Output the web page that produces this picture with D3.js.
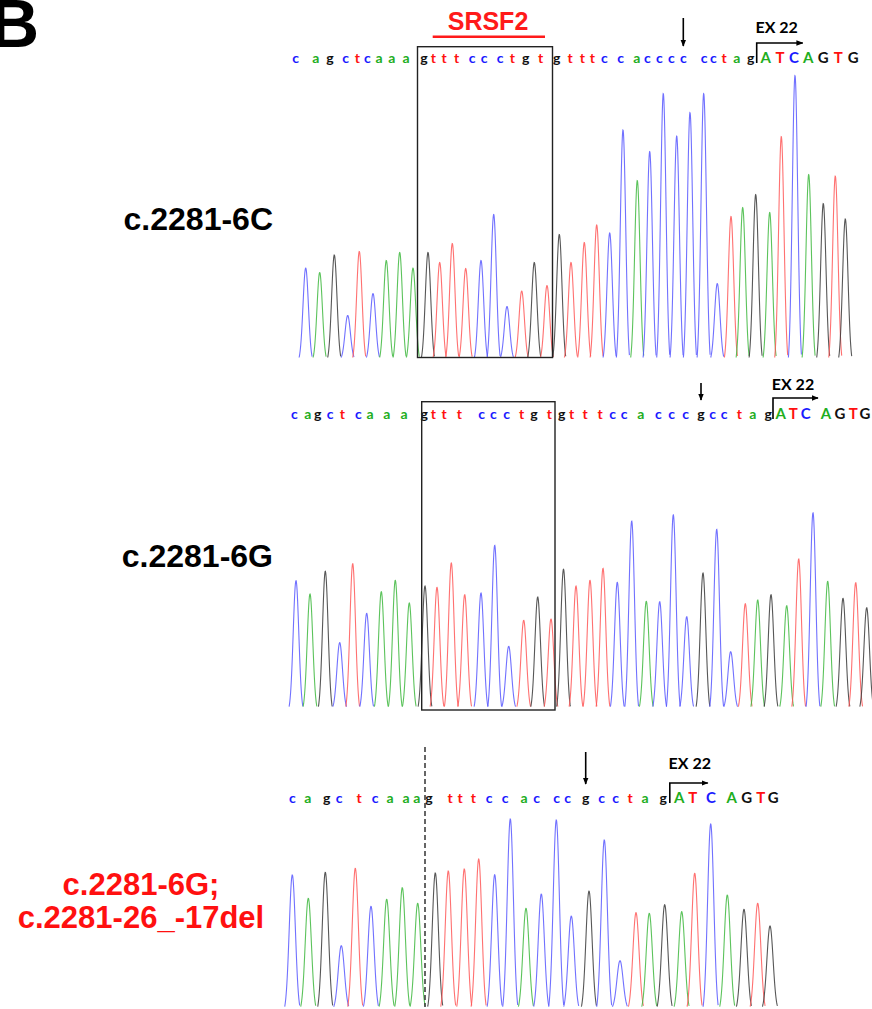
<html lang="en">
<head>
<meta charset="UTF-8">
<title>Sanger chromatograms</title>
<script src="https://d3js.org/d3.v7.min.js"></script>
<style>
  body { margin: 0; background: #fff; }
  .seq { font-family: Lato, "Open Sans", sans-serif; font-weight: 700; }
  .label { font-family: "Liberation Sans", Arial, sans-serif; font-weight: 700; }
  .ex { font-family: Lato, sans-serif; font-weight: 700; font-size: 16px; }
</style>
</head>
<body>
<div id="chart"></div>
<script>
// bases of each read
const bases1 = [..."cagctcaaagtttccctgtgtttccacccccctagATCAGTG"];
const bases2 = [..."cagctcaaagtttccctgtgtttccacccgcctagATCAGTG"];
const bases3 = [..."cagctcaaagtttccacccgcctagATCAGTG"];

// letter positions (trace units)
const letters1 = [23.7, 43.7, 58, 73.7, 85.3, 95.3, 107, 119.7, 134, 152, 161.3, 172, 184.7, 200, 212, 228, 240.3, 253.7, 268.7, 284.7,
  298, 310.3, 320.3, 332.3, 348.7, 364.7, 375.3, 387.3, 399.3, 411.3, 432, 441.3, 452, 464.7, 478.7, 493.7, 508, 522, 536.3, 551.3, 566.3, 581.3];
const letters2 = [22.3, 35.7, 45.7, 58, 70.3, 86.3, 98, 114.7, 132, 152.3, 161.3, 172, 187.3, 209.7, 221.3, 234.7, 249.7, 262, 277.3, 289.7,
  299.7, 313, 328, 340.7, 352, 368.7, 386.3, 399.7, 413.7, 429, 440.7, 452, 467.3, 480.7, 496.3, 508.7, 521.3, 533.7, 554, 568, 581.3, 593];
const letters3 = [20.3, 35.7, 54.7, 67, 87, 103, 118, 134, 144.7, 157, 178, 188, 201.3, 217, 233, 252,
  264.7, 284.7, 295.7, 313.7, 329.7, 343.7, 358, 373, 391.3, 407.3, 420.7, 439, 459.7, 474.7, 488.7, 501.3];

// peak positions (trace units) and heights (signal)
const peaks1 = [33.7, 47.7, 62.3, 75.7, 87.3, 101, 114.3, 127.7, 141, 156, 167.7, 180.3, 193.7, 209, 221.7, 235, 249.7, 262.3, 275, 287.3,
  299, 312.3, 324.7, 337.7, 351, 365.3, 377.7, 391.3, 404.7, 418, 431.7, 445.3, 459, 470.7, 483.7, 497.7, 509.3, 523, 536.7, 551.3, 563.3, 573.3];
const heights1 = [89.5, 85, 102.5, 42, 106, 64, 97, 105, 89.5, 105, 95, 114, 89, 97, 143, 51, 66.5, 95, 72, 123,
  95, 115, 132.5, 124.5, 227.5, 177, 206, 264, 221.5, 245, 264, 74, 141, 150, 163, 145, 221, 282, 183, 154, 181.5, 138.5];

const peaks2 = [24, 38, 53.3, 67.7, 80.7, 94.7, 109.3, 123.3, 137.3, 153, 165, 179.3, 192.7, 209, 222.7, 236.7, 251.7, 265.7, 279, 291.5,
  304, 318, 331, 345.3, 359.7, 374.3, 387.7, 401.3, 414.7, 431, 444.7, 458.7, 473.3, 485.7, 499, 514.7, 526.7, 541, 555.7, 571, 583.7, 594.7];
const heights2 = [126, 112.7, 135.4, 64, 143, 93.4, 115, 126.4, 103.7, 120.7, 119.4, 143.7, 112, 113.7, 161.4, 60.4, 86.4, 109.7, 87.7, 137.4,
  120.7, 126.4, 138.4, 124.4, 185.7, 105.4, 105, 192, 90, 133.7, 177.4, 55, 103, 106.7, 112, 101, 147.7, 194, 125.4, 108.4, 124, 99];

const peaks3 = [20.3, 36.3, 53.3, 69.3, 83.3, 99, 114.7, 130.3, 145.7, 163.3, 176.3, 192.3, 206.7, 222.7, 238.3, 254,
  269.3, 284.3, 299.3, 317, 332.3, 348, 364, 377.3, 392.7, 409.7, 422.7, 438.7, 455.3, 472, 485.7, 498];
const heights3 = [131.7, 108.4, 134.4, 61, 138.4, 100.4, 107.4, 119, 103.4, 133.7, 135.7, 137.7, 147.7, 132, 187.7, 98.4,
  112.7, 186.7, 90.7, 115.7, 166.7, 46, 94, 93.4, 102, 95, 133.4, 182.7, 111.7, 97.4, 103.4, 80.7];

const sampleLabels = ["c.2281-6C", "c.2281-6G", ["c.2281-6G;", "c.2281-26_-17del"]];

const W = 872, H = 1009;
const svg = d3.select("#chart").append("svg").attr("width", W).attr("height", H);

const x = d3.scaleLinear().domain([0, 600]).range([272, 872]);

const traceColor = { a: "#3fb83f", c: "#5858ff", g: "#3a3a3a", t: "#ff5858" };
const textColor = { a: "#1fae1f", c: "#1a1aff", g: "#111", t: "#ff1010" };

const panels = [
  { bases: bases1, letters: letters1, peaks: peaks1, heights: heights1, base: 357.5, seqY: 58, sigma: 2.7, hw: 6.6,
    arrowIdx: 29, arrowY: [18, 46], exY: [43, 63], exLen: 46, exTextY: 33 },
  { bases: bases2, letters: letters2, peaks: peaks2, heights: heights2, base: 706.7, seqY: 414, sigma: 2.8, hw: 6.9,
    arrowIdx: 29, arrowY: [383, 400], exY: [398, 419], exLen: 45, exTextY: 390 },
  { bases: bases3, letters: letters3, peaks: peaks3, heights: heights3, base: 1006.7, seqY: 798, sigma: 3.1, hw: 7.6,
    arrowIdx: 19, arrowY: [752, 784], exY: [783, 803], exLen: 38, exTextY: 769 }
];

const defs = svg.append("defs");
defs.append("marker").attr("id", "head").attr("viewBox", "0 0 10 10")
  .attr("refX", 9).attr("refY", 5).attr("markerWidth", 7).attr("markerHeight", 7)
  .attr("markerUnits", "userSpaceOnUse").attr("orient", "auto")
  .append("path").attr("d", "M0,1 L10,5 L0,9 Z").attr("fill", "#000");

panels.forEach((p, pi) => {
  const y = d3.scaleLinear().domain([0, 300]).range([p.base, p.base - 300]);
  const g = svg.append("g");

  // peaks
  const line = d3.line().x(d => x(d[0])).y(d => y(d[1]));
  const edge = Math.exp(-(p.hw * p.hw) / (2 * p.sigma * p.sigma));
  p.peaks.forEach((pos, i) => {
    const h = p.heights[i];
    const pts = d3.range(-p.hw, p.hw + 0.01, 0.25).map(t => {
      const v = Math.exp(-(t * t) / (2 * p.sigma * p.sigma));
      return [pos + t, h * (v - edge) / (1 - edge)];
    });
    g.append("path").attr("d", line(pts))
      .attr("fill", "none")
      .attr("stroke", traceColor[p.bases[i].toLowerCase()])
      .attr("stroke-width", 1.1)
      .attr("stroke-opacity", 0.85);
  });

  // base letters
  g.selectAll("text.seq").data(p.bases).join("text")
    .attr("class", "seq")
    .attr("x", (d, i) => x(p.letters[i]))
    .attr("y", p.seqY + 5)
    .attr("text-anchor", "middle")
    .attr("font-size", d => d === d.toUpperCase() ? 15 : 14)
    .attr("fill", d => textColor[d.toLowerCase()])
    .text(d => d);

  // mutation arrow
  const ax = x(p.letters[p.arrowIdx]);
  g.append("line").attr("x1", ax).attr("x2", ax).attr("y1", p.arrowY[0]).attr("y2", p.arrowY[1])
    .attr("stroke", "#000").attr("stroke-width", 1.6).attr("marker-end", "url(#head)");

  // exon start arrow
  const exIdx = p.bases.indexOf("A");
  const ex = (x(p.letters[exIdx - 1]) + x(p.letters[exIdx])) / 2 - 1.5;
  g.append("path")
    .attr("d", `M${ex},${p.exY[1]} L${ex},${p.exY[0]} L${ex + p.exLen},${p.exY[0]}`)
    .attr("fill", "none").attr("stroke", "#000").attr("stroke-width", 1.6)
    .attr("marker-end", "url(#head)");
  g.append("text").attr("class", "ex")
    .attr("x", ex + 20).attr("y", p.exTextY)
    .attr("text-anchor", "middle").text("EX 22");
});

// SRSF2 boxes
const boxes = [
  { x0: 145.5, x1: 280.5, top: 46.7, bottom: 357.5 },
  { x0: 149.7, x1: 283, top: 401.7, bottom: 710 }
];
svg.selectAll("rect.box").data(boxes).join("rect")
  .attr("x", d => x(d.x0)).attr("y", d => d.top)
  .attr("width", d => x(d.x1) - x(d.x0)).attr("height", d => d.bottom - d.top)
  .attr("fill", "none").attr("stroke", "#222").attr("stroke-width", 1.4);

svg.append("text").attr("class", "label")
  .attr("x", 488).attr("y", 30).attr("text-anchor", "middle")
  .attr("font-size", 25).attr("fill", "#ff1a1a")
  .text("SRSF2");
svg.append("line").attr("x1", x(160.7)).attr("x2", x(273)).attr("y1", 36.7).attr("y2", 36.7)
  .attr("stroke", "#ff1a1a").attr("stroke-width", 2.6);

// deletion breakpoint
svg.append("line").attr("x1", x(153)).attr("x2", x(153)).attr("y1", 747).attr("y2", 1007)
  .attr("stroke", "#333").attr("stroke-width", 1.5).attr("stroke-dasharray", "5,3");

// sample labels
svg.append("text").attr("class", "label").attr("x", 273).attr("y", 230)
  .attr("text-anchor", "end").attr("font-size", 32).attr("fill", "#000").text(sampleLabels[0]);
svg.append("text").attr("class", "label").attr("x", 273).attr("y", 567)
  .attr("text-anchor", "end").attr("font-size", 32).attr("fill", "#000").text(sampleLabels[1]);
sampleLabels[2].forEach((t, i) => {
  svg.append("text").attr("class", "label").attr("x", 141).attr("y", 895 + i * 33)
    .attr("text-anchor", "middle").attr("font-size", 31).attr("fill", "#ff1010").text(t);
});

// panel letter
svg.append("text").attr("class", "label").attr("x", -10).attr("y", 47)
  .attr("font-size", 68).attr("fill", "#000").text("B");
</script>
</body>
</html>
